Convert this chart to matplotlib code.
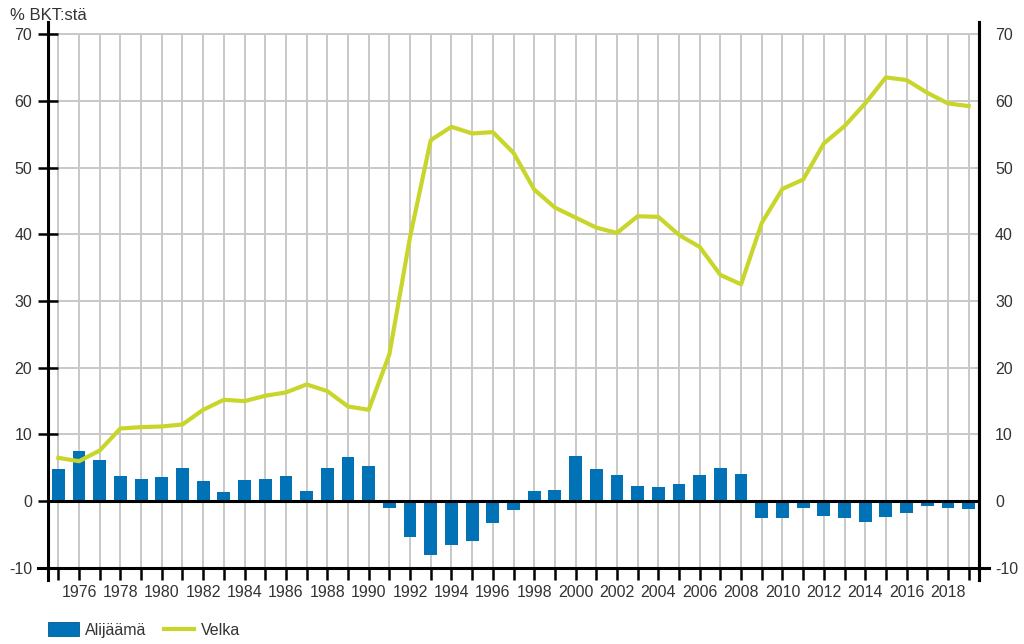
import numpy as np
import matplotlib
matplotlib.use('Agg')
import matplotlib.pyplot as plt
from matplotlib.patches import Patch
from matplotlib.lines import Line2D

plt.rcParams['font.family'] = ['Liberation Sans', 'DejaVu Sans']
plt.rcParams['axes.unicode_minus'] = False

# data (% BKT:stä)
years = list(range(1975, 2020))
alijaama = [4.9, 7.5, 6.2, 3.8, 3.3, 3.6, 5.0, 3.0, 1.45, 3.2,
            3.3, 3.8, 1.55, 5.0, 6.7, 5.3, -0.95, -5.35, -8.1, -6.5,
            -5.95, -3.25, -1.25, 1.6, 1.65, 6.75, 4.9, 3.95, 2.35, 2.15,
            2.55, 3.9, 5.0, 4.1, -2.5, -2.55, -1.05, -2.2, -2.55, -3.05,
            -2.4, -1.75, -0.75, -0.95, -1.2]
velka = [6.5, 6.0, 7.6, 10.9, 11.1, 11.2, 11.5, 13.7, 15.2, 15.0,
         15.8, 16.3, 17.5, 16.5, 14.2, 13.7, 22.0, 39.6, 54.1, 56.1,
         55.1, 55.3, 52.2, 46.7, 44.0, 42.5, 41.0, 40.2, 42.7, 42.6,
         39.9, 38.1, 33.9, 32.5, 41.7, 46.8, 48.2, 53.6, 56.2, 59.6,
         63.5, 63.1, 61.2, 59.6, 59.2]
y_ticks = list(range(-10, 80, 10))
x_labels = [str(y) if y % 2 == 0 else '' for y in years]

bar_color = '#0072b5'
line_color = '#c8d62b'
grid_color = '#c8c8c8'
text_color = '#333333'

fig = plt.figure(figsize=(10.24, 6.44), dpi=100)
ax = fig.add_axes([48 / 1024, 1 - 580 / 644, 931 / 1024, 558 / 644])

x0, x1 = 1974.5, 2019.5
ax.set_xlim(x0, x1)
ax.set_ylim(-11.8, 71.8)

# grid only inside -10..70
ax.vlines(years, -10, 70, color=grid_color, lw=1.4, zorder=0)
ax.hlines([v for v in y_ticks if v > 0], x0, x1, color=grid_color, lw=1.4, zorder=0)

ax.bar(years, alijaama, width=0.62, color=bar_color, zorder=2)
ax.plot(years, velka, color=line_color, lw=3, solid_joinstyle='round', zorder=3)

# zero line and bottom line
ax.axhline(0, color='black', lw=2.2, zorder=4)
ax.plot([x0 - 0.5, x1 + 0.5], [-10, -10], color='black', lw=2.2, clip_on=False, zorder=4)

ax.spines['top'].set_visible(False)
ax.spines['bottom'].set_position(('data', -10))
ax.spines['bottom'].set_visible(False)
for s in ['left', 'right']:
    ax.spines[s].set_linewidth(2.2)

ax.set_xticks(years)
ax.set_xticklabels(x_labels)
ax.tick_params(axis='x', direction='out', length=8.6, width=1.8, pad=4,
               labelsize=11.5, labelcolor=text_color)
ax.set_yticks(y_ticks)
ax.tick_params(axis='y', direction='inout', length=14.4, width=1.8, pad=4.3,
               labelsize=11.5, labelcolor=text_color)

ax2 = ax.twinx()
ax2.set_ylim(ax.get_ylim())
ax2.set_yticks(y_ticks)
ax2.tick_params(axis='y', length=0, pad=11.5, labelsize=11.5, labelcolor=text_color)
for s in ['top', 'bottom', 'left']:
    ax2.spines[s].set_visible(False)
ax2.spines['right'].set_linewidth(2.2)

fig.text(10 / 1024, 1 - 16 / 644, '% BKT:stä', fontsize=12, color=text_color, va='center')

handles = [Patch(facecolor=bar_color, edgecolor='#005a90', lw=0.6),
           Line2D([0], [0], color=line_color, lw=3)]
fig.legend(handles, ['Alijäämä', 'Velka'], loc='center left',
           bbox_to_anchor=(34 / 1024, 1 - 630 / 644), ncol=2, frameon=False,
           fontsize=11.5, handlelength=1.9, handleheight=0.9, handletextpad=0.4,
           columnspacing=1.1, labelcolor=text_color)

plt.savefig('out.png', dpi=100)
